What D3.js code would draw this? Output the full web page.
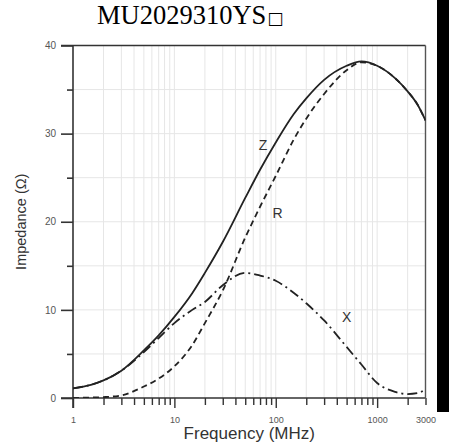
<!DOCTYPE html>
<html><head><meta charset="utf-8">
<script src="https://cdn.jsdelivr.net/npm/d3@7"></script>
<style>html,body{margin:0;padding:0;background:#fff;}svg{display:block;}</style>
</head><body>
<svg id="c" width="449" height="448"></svg>
<script>
const title = "MU2029310YS";
const freq = [1,1.5,2,3,5,7,10,15,20,30,50,70,100,150,200,300,500,700,1000,1500,2000,2500,3000];
const zVals = [1.1,1.5,2.0,3.1,5.4,7.1,9.2,11.9,14.2,17.7,22.7,25.9,29.0,32.2,34.0,36.1,37.7,38.2,37.7,36.3,34.8,33.3,31.5];
const rVals = [0,0.05,0.1,0.3,1.3,2.2,3.6,6.0,8.5,12.2,18.2,21.7,25.2,29.3,31.7,34.5,37.2,38.1,37.7,36.3,34.8,33.3,31.5];
const xVals = [1.1,1.5,2.0,3.1,5.2,6.8,8.5,10.0,10.9,12.8,14.2,13.9,13.3,11.95,10.75,8.8,5.8,3.8,1.7,0.7,0.45,0.55,1.0];
const xTickLabels = [1,10,100,1000,3000];
const yTickLabels = [0,10,20,30,40];
const seriesLabels = ["Z","R","X"];

const svg = d3.select("#c");
const L = 73, R = 425.5, T = 45.5, B = 398;
const x = d3.scaleLog().domain([1,3000]).range([L,R]);
const y = d3.scaleLinear().domain([0,40]).range([B,T]);

const minorX = [];
for (let d = 1; d <= 1000; d *= 10) for (let k = 1; k <= 9; k++) { const v = d*k; if (v <= 3000) minorX.push(v); }
const minorY = d3.range(0,41,5);

// grid
svg.append("g").selectAll("line").data(minorX.filter(v=>v>1 && v<3000)).join("line")
  .attr("x1",d=>x(d)).attr("x2",d=>x(d)).attr("y1",T).attr("y2",B)
  .attr("stroke","#e6e6e6").attr("stroke-width",1);
svg.append("g").selectAll("line").data(minorY.filter(v=>v>0 && v<40)).join("line")
  .attr("x1",L).attr("x2",R).attr("y1",d=>y(d)).attr("y2",d=>y(d))
  .attr("stroke","#e6e6e6").attr("stroke-width",1);

// y axis
const yAx = svg.append("g").attr("transform",`translate(${L},0)`)
  .call(d3.axisLeft(y).tickValues(minorY).tickSize(12).tickFormat(d=>yTickLabels.includes(d)?d:""));
yAx.selectAll(".tick line").attr("x2",d=>yTickLabels.includes(d)?-12:-6);
yAx.select(".domain").remove();
yAx.selectAll("line").attr("stroke","#333").attr("stroke-width",1.6);
yAx.selectAll("text").attr("font-family","Liberation Sans, Arial, sans-serif").attr("font-size",10).attr("fill","#555").attr("x",-17);

// x axis
const xAx = svg.append("g").attr("transform",`translate(0,${B})`)
  .call(d3.axisBottom(x).tickValues(minorX.concat([2000,3000]).filter((v,i,a)=>a.indexOf(v)===i)).tickSize(7).tickFormat(d=>xTickLabels.includes(d)?d:""));
xAx.selectAll(".tick line").attr("y2",d=>[1,10,100,1000].includes(d)?10:7);
xAx.select(".domain").remove();
xAx.selectAll("line").attr("stroke","#333").attr("stroke-width",1.4);
xAx.selectAll("text").attr("font-family","Liberation Sans, Arial, sans-serif").attr("font-size",9).attr("fill","#555").attr("y",19);

// frame
svg.append("line").attr("x1",L-12).attr("x2",R).attr("y1",B).attr("y2",B).attr("stroke","#333").attr("stroke-width",1.6);
svg.append("line").attr("x1",L-12).attr("x2",R).attr("y1",T).attr("y2",T).attr("stroke","#333").attr("stroke-width",1.6);
svg.append("line").attr("x1",L).attr("x2",L).attr("y1",T).attr("y2",B+10).attr("stroke","#333").attr("stroke-width",1.6);
svg.append("line").attr("x1",R).attr("x2",R).attr("y1",T).attr("y2",B).attr("stroke","#555").attr("stroke-width",1.4);

// curves
svg.append("clipPath").attr("id","pc").append("rect").attr("x",L).attr("y",T).attr("width",R-L).attr("height",B-T);
const line = vals => d3.line().x((d,i)=>x(freq[i])).y(d=>y(d)).curve(d3.curveMonotoneX)(vals);
const g = svg.append("g").attr("clip-path","url(#pc)");
g.append("path").attr("d",line(xVals)).attr("fill","none").attr("stroke","#222").attr("stroke-width",1.8).attr("stroke-dasharray","10,4,2,4");
g.append("path").attr("d",line(rVals)).attr("fill","none").attr("stroke","#222").attr("stroke-width",1.8).attr("stroke-dasharray","6,4");
g.append("path").attr("d",line(zVals)).attr("fill","none").attr("stroke","#222").attr("stroke-width",1.8);

// series labels
const lab = [[seriesLabels[0],75,28.7],[seriesLabels[1],104,21],[seriesLabels[2],500,9.2]];
svg.append("g").selectAll("text").data(lab).join("text")
  .attr("x",d=>x(d[1])).attr("y",d=>y(d[2])).attr("text-anchor","middle").attr("dominant-baseline","central")
  .attr("font-family","Liberation Sans, Arial, sans-serif").attr("font-size",14).attr("fill","#333").text(d=>d[0]);

// axis titles
svg.append("text").attr("x",(L+R)/2).attr("y",439).attr("text-anchor","middle")
  .attr("font-family","Liberation Sans, Arial, sans-serif").attr("font-size",17).attr("fill","#333").text("Frequency (MHz)");
svg.append("text").attr("transform",`translate(26,${(T+B)/2}) rotate(-90)`).attr("text-anchor","middle")
  .attr("font-family","Liberation Sans, Arial, sans-serif").attr("font-size",14.5).attr("fill","#333").text("Impedance (Ω)");

// title
const tt = svg.append("text").attr("x",97).attr("y",24).attr("font-family","Liberation Serif, Times New Roman, serif").attr("font-size",26.5).attr("fill","#000");
tt.append("tspan").text(title);
tt.append("tspan").attr("font-family","DejaVu Sans").attr("font-size",17).attr("dx",1).text("□");

// right black band
svg.append("rect").attr("x",437).attr("y",0).attr("width",12).attr("height",412).attr("fill","#000");
</script>
</body></html>
